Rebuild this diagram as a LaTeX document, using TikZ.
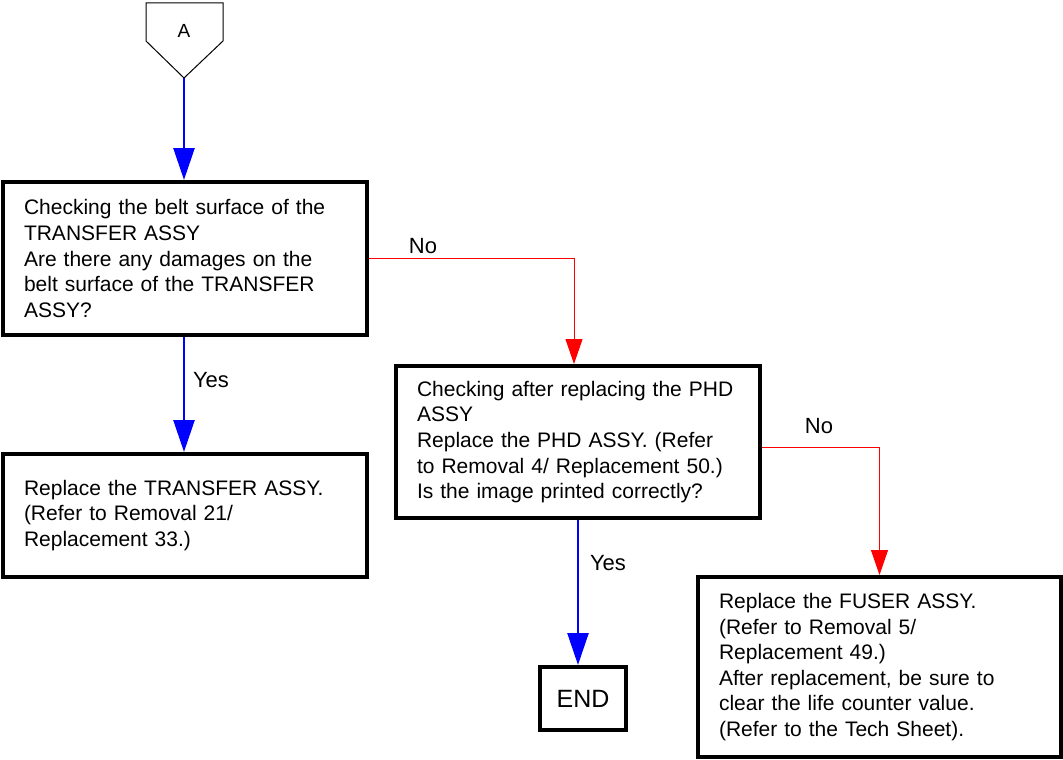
\documentclass[tikz,border=0pt]{standalone}
\usepackage{fontspec}
\setmainfont{Liberation Sans}
\usetikzlibrary{arrows.meta}
\begin{document}
\begin{tikzpicture}[x=1pt,y=-1pt,
  every node/.style={font=\fontsize{21}{25.6}\selectfont},
  stepbox/.style={draw=black,line width=4pt,fill=white,align=left,inner ysep=0pt,inner xsep=21pt,anchor=center},
  yesarrow/.style={draw={rgb,255:red,0;green,0;blue,255},line width=2.5pt,-{Triangle[width=21pt,length=32pt]}},
  noarrow/.style={draw={rgb,255:red,255;green,0;blue,0},line width=1pt,-{Triangle[width=17pt,length=25pt]}},
  lbl/.style={inner sep=0pt,font=\fontsize{22}{26}\selectfont}]
\useasboundingbox (0,0) rectangle (1063,760);
% connector A
\draw[line width=1pt] (146,3) -- (223,3) -- (223,41) -- (184,78) -- (146,41) -- cycle;
\coordinate (Abot) at (184,78);
\node[inner sep=0pt,font=\fontsize{19}{22}\selectfont] (Alabel) at (184,31) {A};
% boxes
\node[stepbox,text width=322pt,minimum width=364pt,minimum height=153pt] (b1) at (185,258.5)
 {Checking the belt surface of the\\TRANSFER ASSY\\Are there any damages on the\\belt surface of the TRANSFER\\ASSY?};
\node[stepbox,text width=322pt,minimum width=364pt,minimum height=123pt] (b2) at (185,515.5)
 {Replace the TRANSFER ASSY.\\(Refer to Removal 21/\\Replacement 33.)};
\node[stepbox,text width=322pt,minimum width=364pt,minimum height=152pt] (b3) at (578,442)
 {Checking after replacing the PHD\\ASSY\\Replace the PHD ASSY. (Refer\\to Removal 4/ Replacement 50.)\\Is the image printed correctly?};
\node[stepbox,text width=321pt,minimum width=363pt,minimum height=180pt] (b4) at (879.5,667)
 {Replace the FUSER ASSY.\\(Refer to Removal 5/\\Replacement 49.)\\After replacement, be sure to\\clear the life counter value.\\(Refer to the Tech Sheet).};
\node[stepbox,inner xsep=0pt,align=center,minimum width=86pt,minimum height=63pt,font=\fontsize{25}{30}\selectfont] (end) at (583,698.5) {END};
% connectors
\draw[yesarrow] (Abot) -- (Abot |- b1.north);
\draw[yesarrow] (b1.south -| Abot) -- (b2.north -| Abot);
\node[lbl] (y1) at (211,380) {Yes};
\draw[noarrow] ([yshift=0.5pt]b1.east) -| ([xshift=-4pt]b3.north);
\node[lbl] (n1) at (423,246) {No};
\draw[yesarrow] (b3.south) -- (b3.south |- end.north);
\node[lbl] (y2) at (608,563) {Yes};
\draw[noarrow] ([yshift=-5pt]b3.east) -| (b4.north);
\node[lbl] (n2) at (819,426) {No};
\end{tikzpicture}
\end{document}
